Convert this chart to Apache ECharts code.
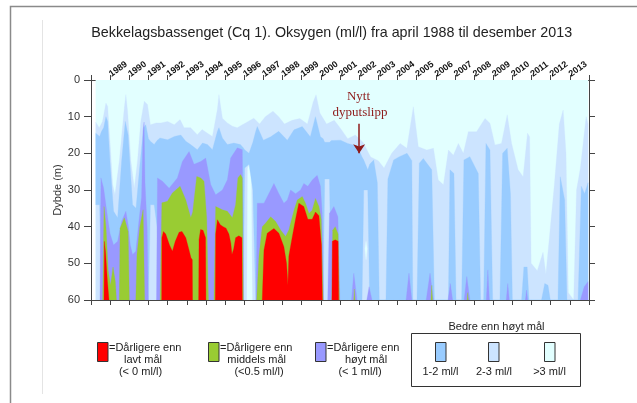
<!DOCTYPE html>
<html><head><meta charset="utf-8">
<script src="https://cdn.jsdelivr.net/npm/echarts/dist/echarts.min.js"></script>
<style>html,body{margin:0;padding:0;background:#fff}#c{width:637px;height:403px}</style>
</head><body><div id="c"></div>
<script>
// ---- axis ticks ----
const yearLabels = [1989,1990,1991,1992,1993,1994,1995,1996,1997,1998,1999,2000,2001,2002,2003,2004,2005,2006,2007,2008,2009,2010,2011,2012,2013];
const depthTicks = [0,10,20,30,40,50,60];

// ---- class colours ----
const colGt3 = '#E2FFFF', col23 = '#CCE4FF', col12 = '#99CCFF', col1 = '#9999FF', col05 = '#99CC33', col0 = '#FF0000';

// ---- patches: [year, top depth, bottom depth] ----
const gt3Back = [[1988.25,0,60],[2013.95,0,60]];

const c23 = [[1988.25,11.5,60],[1988.43,13,60],[1988.6,11.3,60],[1988.78,6.3,60],[1988.87,7.2,60],[1989.0,17.6,60],[1989.13,28.5,60],[1989.25,31.3,60],[1989.48,22,60],[1989.74,7.6,60],[1989.82,4,60],[1989.91,8.5,60],[1990.08,22,60],[1990.26,29.5,60],[1990.43,22,60],[1990.6,11.3,60],[1990.78,5.8,60],[1990.95,6.7,60],[1991.1,12.2,60],[1991.4,11.7,60],[1991.65,11.7,60],[1992.0,11.3,60],[1992.35,12.2,60],[1992.65,10.8,60],[1992.86,13,60],[1993.2,13,60],[1993.55,14.9,60],[1993.8,13.5,60],[1994.08,14.5,60],[1994.34,15.4,60],[1994.6,8,60],[1994.68,4,60],[1994.86,10.4,60],[1995.12,11.7,60],[1995.38,12.6,60],[1995.64,13,60],[1995.9,12.2,60],[1996.07,11.7,60],[1996.5,10.4,60],[1996.8,12,60],[1997.1,10,60],[1997.5,8.5,60],[1997.8,10,60],[1998.1,12,60],[1998.5,11,60],[1998.9,10.5,60],[1999.3,12,60],[1999.6,6,60],[1999.75,4,60],[1999.95,9,60],[2000.3,12,60],[2000.7,11,60],[2001.0,13,60],[2001.4,16,60],[2001.8,15,60],[2002.2,17,60],[2002.6,21,60],[2003.0,22,60],[2003.3,24,60],[2003.7,20,60],[2004.14,17.3,60],[2004.49,18.6,60],[2004.83,7.3,60],[2005.09,18.2,60],[2005.53,19.1,60],[2005.88,18.6,60],[2006.13,27.3,60],[2006.4,28.6,60],[2006.66,19.1,60],[2006.92,20.5,60],[2007.18,17.3,60],[2007.44,20,60],[2007.7,14.1,60],[2008.13,14.1,60],[2008.57,10.5,60],[2008.83,11.8,60],[2009.09,17.7,60],[2009.43,17.3,60],[2009.73,9.5,60],[2009.96,17.3,60],[2010.3,24.5,60],[2010.56,26.4,60],[2010.79,14.5,60],[2010.9,15.5,60],[2010.98,50,60],[2011.3,52,60],[2011.6,47,60],[2011.75,53,60],[2011.95,42,60],[2012.2,28,60],[2012.45,12,60],[2012.65,8.2,60],[2012.8,20,60],[2012.92,58,60],[2013.2,60,60],[2013.35,30,60],[2013.55,24,60],[2013.85,10,60],[2013.95,12,60]];

const gt3Core1 = [[1996.14,60,60],[1996.18,24,60],[1996.36,22,60],[1996.42,60,60]];
const gt3Core2 = [[2002.3,46,46],[2002.36,44,49],[2002.42,46,46]];

const c12 = [[1988.25,14.5,34],[1988.45,15.4,34],[1988.55,14,60],[1988.66,13,60],[1988.78,10,60],[1988.87,11.3,60],[1989.0,23,60],[1989.18,35.8,60],[1989.39,37.6,60],[1989.6,22,60],[1989.79,11.3,60],[1989.94,15,60],[1990.17,34,60],[1990.35,35,60],[1990.52,25,60],[1990.74,13,60],[1990.86,12.2,60],[1991.0,16,60],[1991.1,16.7,34],[1991.3,17.6,34],[1991.45,16.5,40],[1991.6,15.8,60],[1992.0,16.3,60],[1992.35,15.4,60],[1992.69,15,60],[1992.95,16.7,60],[1993.2,17.6,60],[1993.55,19,60],[1993.82,17.2,60],[1994.08,17.6,60],[1994.34,19,60],[1994.6,14,60],[1994.68,13,60],[1994.86,15.8,60],[1995.12,17.6,60],[1995.46,17.2,60],[1995.8,17.6,60],[1995.95,18.5,60],[1996.02,19,24],[1996.25,20,23],[1996.45,17,30],[1996.6,14,60],[1996.68,12.7,60],[1997.0,16.4,60],[1997.38,15.5,60],[1997.8,14,60],[1998.25,16.4,60],[1998.6,13.6,60],[1999.03,12.7,60],[1999.45,15.5,60],[1999.72,10,60],[1999.98,15.5,60],[2000.12,16,60],[2000.2,17,27],[2000.45,17,27],[2000.55,16.5,60],[2001.03,16.4,60],[2001.4,17.3,60],[2001.9,18,60],[2002.15,21,60],[2002.24,21.8,30],[2002.45,24.5,30],[2002.55,23,60],[2002.76,21.8,60],[2002.95,28,60],[2003.05,60,60],[2003.4,60,60],[2003.5,27,60],[2003.8,21.8,60],[2004.1,20.9,60],[2004.5,20,60],[2004.75,22,60],[2004.8,60,60],[2005.02,60,60],[2005.14,22.7,60],[2005.35,21.4,60],[2005.79,24.5,60],[2005.93,60,60],[2006.66,60,60],[2006.74,24.5,60],[2006.95,25.5,60],[2007.06,60,60],[2007.35,60,60],[2007.47,21.8,60],[2007.78,20.9,60],[2008.22,25.5,60],[2008.34,60,60],[2008.5,60,60],[2008.62,17.3,60],[2008.83,19.1,60],[2008.97,60,60],[2009.35,60,60],[2009.49,20,60],[2009.73,18.6,60],[2009.9,31,60],[2010.0,60,60],[2010.48,60,60],[2010.6,51,60],[2010.77,51,60],[2010.87,60,60],[2011.52,60,60],[2011.69,55.5,60],[2011.86,56,60],[2011.98,60,60],[2012.38,60,60],[2012.5,26.4,60],[2012.73,32.7,60],[2012.85,60,60],[2013.43,60,60],[2013.6,29,60],[2013.77,31,60],[2013.95,28,60]];

const p1a = [[1988.47,60,60],[1988.52,26.7,60],[1988.66,29.5,60],[1988.87,37.6,60],[1989.0,42,60],[1989.18,45,60],[1989.39,44,60],[1989.6,38.5,60],[1989.82,35.8,60],[1989.94,39.5,60],[1990.05,45,60],[1990.17,47.6,60],[1990.34,46.7,60],[1990.52,37.6,60],[1990.64,32,60],[1990.72,14,60],[1990.77,11.5,60],[1990.82,28,60],[1990.93,40,60],[1990.99,60,60]];
const p1b = [[1991.42,60,60],[1991.47,26.7,60],[1991.73,27.6,60],[1992.08,29.5,60],[1992.51,26.7,60],[1992.77,22.2,60],[1993.12,19.5,60],[1993.38,23,60],[1993.73,22.2,60],[1993.99,21.3,60],[1994.25,28.5,60],[1994.51,31.3,60],[1994.86,30,60],[1995.12,27.2,60],[1995.29,21.3,60],[1995.64,18.5,60],[1995.9,19,60],[1995.97,60,60]];
const p1c = [[1996.62,60,60],[1996.68,33.6,60],[1997.03,33.6,60],[1997.38,30,60],[1997.55,28.2,60],[1997.81,31,60],[1998.07,33.6,60],[1998.25,32.7,60],[1998.42,30,60],[1998.68,31,60],[1998.94,30,60],[1999.11,28.2,60],[1999.32,29,60],[1999.55,27.3,60],[1999.81,26,60],[1999.98,29,60],[2000.07,36.4,60],[2000.14,60,60]];
const p1d = [[2000.36,60,60],[2000.45,36.4,60],[2000.68,34.5,60],[2000.89,37.3,60],[2000.99,60,60]];
const p1small = [
  [[2001.6,60,60],[2001.72,52.7,60],[2001.89,60,60]],
  [[2002.4,60,60],[2002.52,56.4,60],[2002.67,60,60]],
  [[2004.45,60,60],[2004.6,52.7,60],[2004.75,60,60]],
  [[2005.5,60,60],[2005.7,52.7,60],[2005.88,60,60]],
  [[2006.64,60,60],[2006.76,55.5,60],[2006.88,60,60]],
  [[2007.48,60,60],[2007.62,53.6,60],[2007.78,60,60]],
  [[2008.64,60,60],[2008.72,51.8,60],[2008.8,60,60]],
  [[2009.68,60,60],[2009.76,55.5,60],[2009.84,60,60]],
  [[2010.68,60,60],[2010.74,57.3,60],[2010.8,60,60]],
  [[2013.55,60,60],[2013.75,56.4,60],[2013.95,55,60]]
];

const g05a = [[1988.61,60,60],[1988.68,34.5,60],[1988.78,40,60],[1988.9,52,60],[1989.02,56,60],[1989.15,51,60],[1989.27,55,60],[1989.33,60,60]];
const g05b = [[1989.48,60,60],[1989.52,40.4,60],[1989.74,37.6,60],[1989.94,41.3,60],[1990.0,60,60]];
const g05c = [[1990.34,60,60],[1990.4,47.6,60],[1990.55,40,60],[1990.72,35.4,60],[1990.8,60,60]];
const g05d = [[1991.61,60,60],[1991.7,33.5,60],[1991.99,33.1,60],[1992.25,30.8,60],[1992.65,29,60],[1992.95,32.7,60],[1993.21,37.6,60],[1993.31,36,60],[1993.52,26.3,60],[1993.73,26.7,60],[1993.9,27.6,60],[1994.04,37.6,60],[1994.13,60,60]];
const g05e = [[1994.42,60,60],[1994.51,34.5,60],[1994.86,35.4,60],[1995.12,35.8,60],[1995.38,37.6,60],[1995.55,34,60],[1995.67,26.7,60],[1995.81,25.8,60],[1995.9,26.7,60],[1995.95,60,60]];
const g05f = [[1996.65,60,60],[1996.77,48,60],[1996.94,40,60],[1997.12,39,60],[1997.38,37.3,60],[1997.64,38.6,60],[1997.9,40.9,60],[1998.16,42.7,60],[1998.33,40.9,60],[1998.6,35.5,60],[1998.77,32.7,60],[1999.03,31.8,60],[1999.2,33.6,60],[1999.38,36.4,60],[1999.55,35.5,60],[1999.72,32.3,60],[1999.9,34.5,60],[2000.02,38,60],[2000.12,60,60]];
const g05g = [[2000.57,60,60],[2000.62,41,60],[2000.75,40,60],[2000.9,42,60],[2000.97,60,60]];
const g05small = [
  [[2001.72,60,60],[2001.75,57,60],[2001.78,60,60]],
  [[2005.75,60,60],[2005.79,56,60],[2005.83,60,60]],
  [[2007.64,60,60],[2007.67,58,60],[2007.7,60,60]]
];

const r0a = [[1988.68,60,60],[1988.7,44,60],[1988.76,47,60],[1988.86,55,60],[1988.94,60,60]];
const r0b = [[1991.69,60,60],[1991.7,43,60],[1991.78,41.3,60],[1991.9,42,60],[1992.1,45,60],[1992.25,46.7,60],[1992.4,44,60],[1992.6,41.5,60],[1992.75,41.3,60],[1992.95,43,60],[1993.1,46,60],[1993.22,48.5,60],[1993.29,49,60],[1993.3,60,60]];
const r0c = [[1993.62,60,60],[1993.64,43.5,60],[1993.72,40.8,60],[1993.85,41,60],[1993.98,43,60],[1994.0,60,60]];
const r0d = [[1994.49,60,60],[1994.51,42,60],[1994.6,38.1,60],[1994.75,39.5,60],[1994.9,40,60],[1995.05,40.4,60],[1995.2,42,60],[1995.3,44.5,60],[1995.36,47.6,60],[1995.45,46,60],[1995.55,43,60],[1995.72,42.5,60],[1995.88,43,60],[1995.9,60,60]];
const r0e = [[1996.94,60,60],[1997.03,46.4,60],[1997.2,41.8,60],[1997.55,40.5,60],[1997.81,41.8,60],[1998.07,45.5,60],[1998.21,50,60],[1998.28,56,60],[1998.33,48,60],[1998.5,43,60],[1998.68,38,60],[1998.85,33.6,60],[1999.11,34.5,60],[1999.32,38,60],[1999.55,38,60],[1999.72,36,60],[1999.9,37,60],[2000.03,45,60],[2000.08,60,60]];
const r0f = [[2000.58,60,60],[2000.6,44,60],[2000.75,43.6,60],[2000.9,44,60],[2000.93,60,60]];

// annotation
const releaseYear = 2002.0;
const arrowFrom = 11.9, arrowTo = 20.0;

// ---- build series: each patch is one polygon placed through the axes ----
const series = [];
function addPatch(pts, color) {
  series.push({
    type:'custom', silent:true, clip:true,
    data: pts, encode:{x:0, y:[1,2]},
    renderItem: function (params, api) {
      if (params.dataIndex !== 0) return null;
      const upper = pts.map(p => api.coord([p[0], p[1]]));
      const lower = pts.slice().reverse().map(p => api.coord([p[0], p[2]]));
      return {type:'polygon', shape:{points: upper.concat(lower)}, style:{fill:color, stroke:color, lineWidth:0.3}};
    }
  });
}
addPatch(gt3Back, colGt3);
addPatch(c23, col23);
addPatch(gt3Core1, colGt3);
addPatch(gt3Core2, colGt3);
addPatch(c12, col12);
[p1a,p1b,p1c,p1d].concat(p1small).forEach(p=>addPatch(p,col1));
[g05a,g05b,g05c,g05d,g05e,g05f,g05g].concat(g05small).forEach(p=>addPatch(p,col05));
[r0a,r0b,r0c,r0d,r0e,r0f].forEach(p=>addPatch(p,col0));
series.push({type:'line', data:[], silent:true,
  markLine:{silent:true, symbol:['none','arrow'], symbolSize:9, animation:false,
    lineStyle:{color:'#8E1B1B', width:1.5, type:'solid'}, label:{show:false},
    data:[[{coord:[releaseYear,arrowFrom]},{coord:[releaseYear,arrowTo]}]]}});

const F = 'Liberation Sans, Arial, sans-serif';
const axisCol = '#444';
const txt = (x,y,s,align,size) => ({type:'text', x:x, y:y, silent:true,
  style:{text:s, fill:'#222', font:(size||11)+'px '+F, textAlign:align||'center', textVerticalAlign:'middle'}});
const rect = (x,y,w,h,fill) => ({type:'rect', silent:true, shape:{x:x,y:y,width:w,height:h}, style:{fill:fill, stroke:'#333', lineWidth:1}});

const graphic = [
  {type:'polyline', silent:true, shape:{points:[[10.5,403],[10.5,6.5],[637,6.5]]}, style:{stroke:'#8a8a8a', lineWidth:1.5, fill:null}},
  {type:'line', silent:true, shape:{x1:42.5,y1:20,x2:42.5,y2:394}, style:{stroke:'#e4e4e4', lineWidth:1}},
  txt(331.7,33,'Bekkelagsbassenget (Cq 1). Oksygen (ml/l) fra april 1988 til desember 2013','center',14.3),
  {type:'text', x:358.5, y:97, silent:true, z:100, style:{text:'Nytt', fill:'#8E1B1B', font:'13px Liberation Serif, Times New Roman, serif', textAlign:'center', textVerticalAlign:'middle'}},
  {type:'text', x:360, y:112.5, silent:true, z:100, style:{text:'dyputslipp', fill:'#8E1B1B', font:'13px Liberation Serif, Times New Roman, serif', textAlign:'center', textVerticalAlign:'middle'}},
  rect(97.5,342.5,10.5,19,col0),
  txt(109,347.5,'=Dårligere enn','left'),
  txt(143,359.5,'lavt mål'),
  txt(140.5,371.5,'(< 0 ml/l)'),
  rect(208.5,342.5,10.5,19,col05),
  txt(220,347.5,'=Dårligere enn','left'),
  txt(256.7,359.5,'middels mål'),
  txt(259,371.5,'(<0.5 ml/l)'),
  rect(315.5,342.5,10.5,19,col1),
  txt(327,347.5,'=Dårligere enn','left'),
  txt(366,359.5,'høyt mål'),
  txt(360,371.5,'(< 1 ml/l)'),
  txt(496.5,326.5,'Bedre enn høyt mål'),
  {type:'rect', silent:true, shape:{x:411.5,y:333.5,width:169,height:53}, style:{fill:null, stroke:'#333', lineWidth:1}},
  rect(435.5,342.5,10.5,19,col12),
  rect(488.5,342.5,10.5,19,col23),
  rect(544.5,342.5,10.5,19,colGt3),
  txt(440.5,371.5,'1-2 ml/l'),
  txt(494,371.5,'2-3 ml/l'),
  txt(549.5,371.5,'>3 ml/l')
];

const chart = echarts.init(document.getElementById('c'), null, {renderer:'canvas'});
chart.setOption({
  animation:false,
  backgroundColor:'#fff',
  grid:{left:91, right:48, top:80, bottom:103, containLabel:false},
  xAxis:[
    {type:'value', position:'top', min:1988, max:2014, interval:1,
     axisLine:{show:true, onZero:false, lineStyle:{color:axisCol}},
     axisTick:{show:true, length:5, lineStyle:{color:axisCol}},
     splitLine:{show:false},
     axisLabel:{rotate:-36, margin:5, color:'#111', fontSize:9, fontWeight:'bold', fontFamily:F,
       formatter:v => yearLabels.indexOf(v) >= 0 ? String(v) : ''}},
    {type:'value', position:'bottom', min:1988, max:2014, interval:1,
     axisLine:{show:true, onZero:false, lineStyle:{color:axisCol}},
     axisTick:{show:true, length:5, lineStyle:{color:axisCol}},
     splitLine:{show:false}, axisLabel:{show:false}}
  ],
  yAxis:[
    {type:'value', inverse:true, min:depthTicks[0], max:depthTicks[depthTicks.length-1], interval:10, position:'left',
     name:'Dybde (m)', nameLocation:'middle', nameGap:28, nameRotate:90, nameMoveOverlap:false,
     nameTextStyle:{fontSize:11, color:'#333', fontFamily:F},
     axisLine:{show:true, onZero:false, lineStyle:{color:axisCol}},
     axisTick:{show:true, length:7, lineStyle:{color:axisCol}},
     splitLine:{show:false},
     axisLabel:{margin:11, fontSize:11, color:'#333', fontFamily:F}},
    {type:'value', inverse:true, min:0, max:60, interval:10, position:'right',
     axisLine:{show:true, onZero:false, lineStyle:{color:axisCol}},
     axisTick:{show:true, length:6, lineStyle:{color:axisCol}},
     splitLine:{show:false}, axisLabel:{show:false}}
  ],
  series: series,
  graphic: graphic
});
</script>
</body></html>
